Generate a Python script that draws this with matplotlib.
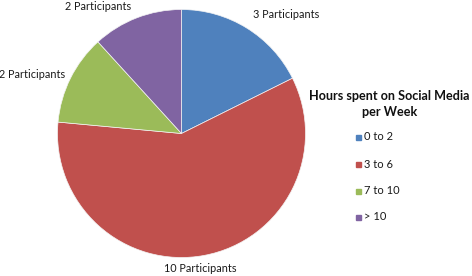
import matplotlib
matplotlib.use("Agg")
import matplotlib.pyplot as plt

categories = ["0 to 2", "3 to 6", "7 to 10", "> 10"]
values = [3, 10, 2, 2]
colors = ["#4F81BD", "#C0504D", "#9BBB59", "#8064A2"]
title_lines = ["Hours spent on Social Media", "per Week"]

W, H = 472, 276
fig = plt.figure(figsize=(W / 100, H / 100), dpi=100)
plt.rcParams['font.family'] = ['Lato', 'DejaVu Sans']

cx, cy, r = 181.5, 133.5, 124
ax = fig.add_axes([(cx - r) / W, (H - cy - r) / H, 2 * r / W, 2 * r / H])
ax.pie(values, colors=colors, startangle=90, counterclock=False,
       wedgeprops=dict(linewidth=0.5, edgecolor="#f4f4f4"))
ax.set_xlim(-1, 1)
ax.set_ylim(-1, 1)
ax.set_aspect("equal")
ax.axis("off")

label_pos = [(286, 15), (200, 268), (32, 75), (98, 6)]
for v, (x, y) in zip(values, label_pos):
    fig.text(x / W, 1 - y / H, f"{v} Participants", ha="center", va="center",
             fontsize=7.8, color="#1a1a1a")

fig.text(389.5 / W, 1 - 96 / H, title_lines[0], ha="center", va="center",
         fontsize=9.1, fontweight="bold", color="#111111")
fig.text(390 / W, 1 - 112.5 / H, title_lines[1], ha="center", va="center",
         fontsize=9.1, fontweight="bold", color="#111111")

ys = [137, 164, 191, 217]
for cat, col, y in zip(categories, colors, ys):
    fig.patches.append(plt.Rectangle((356 / W, 1 - (y + 2.5) / H), 5 / W, 5 / H,
                                     transform=fig.transFigure, color=col))
    fig.text(364 / W, 1 - y / H, cat, ha="left", va="center", fontsize=8, color="#1a1a1a")

fig.savefig("out.png", dpi=100)
